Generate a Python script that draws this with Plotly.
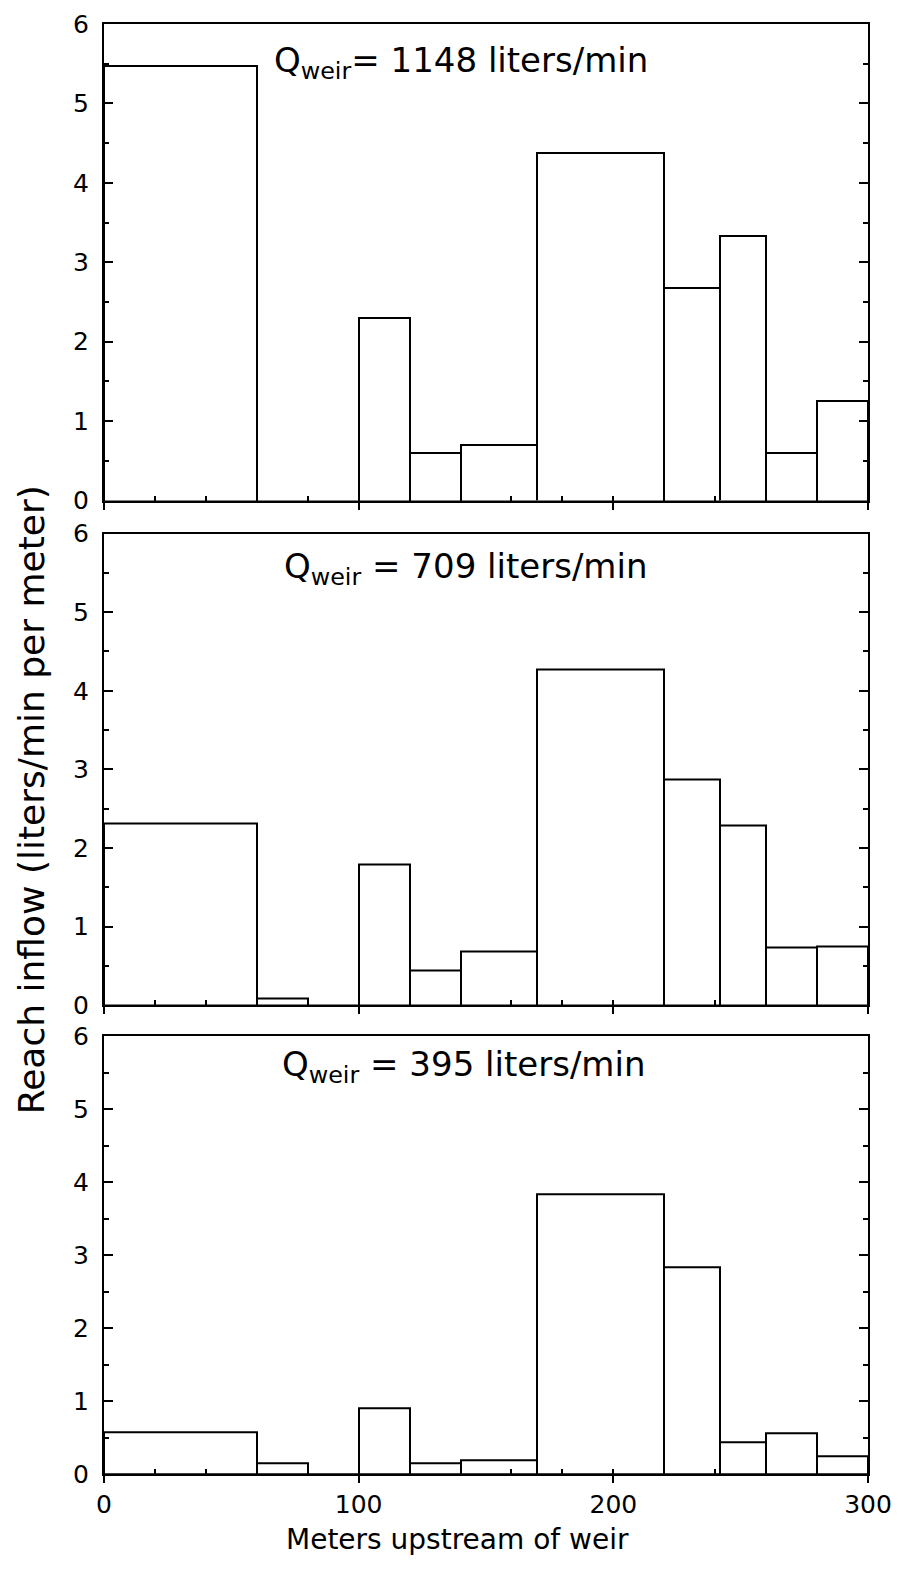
import plotly.graph_objects as go

# Bin edges (meters upstream of weir)
edges = [0, 60, 80, 100, 120, 140, 170, 220, 242, 260, 280, 300]

# Reach inflow (liters/min per meter) for each bin
q1148 = [5.47, 0.0, 0.0, 2.30, 0.60, 0.70, 4.37, 2.68, 3.33, 0.60, 1.25]
q709 = [2.31, 0.09, 0.0, 1.79, 0.44, 0.68, 4.27, 2.87, 2.29, 0.73, 0.75]
q395 = [0.57, 0.15, 0.0, 0.90, 0.15, 0.19, 3.83, 2.83, 0.44, 0.56, 0.24]

panel_labels = ["Q<sub>weir</sub>= 1148 liters/min",
                "Q<sub>weir</sub> = 709 liters/min",
                "Q<sub>weir</sub> = 395 liters/min"]

x_ticks = [0, 100, 200, 300]
y_ticks = [0, 1, 2, 3, 4, 5, 6]

centers = [(a + b) / 2 for a, b in zip(edges[:-1], edges[1:])]
widths = [b - a for a, b in zip(edges[:-1], edges[1:])]

FONT = "DejaVu Sans"
fig = go.Figure()

series = [q1148, q709, q395]
domains = [[0.6713, 1.0], [0.3232, 0.6486], [0.0, 0.3019]]
label_y = [5.52, 5.56, 5.59]
label_x = [66, 70, 69]

for i, vals in enumerate(series):
    n = i + 1
    xa = "x" if n == 1 else f"x{n}"
    ya = "y" if n == 1 else f"y{n}"
    fig.add_trace(go.Bar(
        x=centers, y=vals, width=widths,
        marker=dict(color="white", line=dict(color="black", width=2)),
        xaxis=xa, yaxis=ya, showlegend=False, hoverinfo="x+y"))
    xkey = "xaxis" if n == 1 else f"xaxis{n}"
    ykey = "yaxis" if n == 1 else f"yaxis{n}"
    fig.update_layout({
        xkey: dict(
            domain=[0, 1], anchor=ya, range=[0, 300], automargin=False,
            tickvals=x_ticks, ticktext=[str(v) for v in x_ticks],
            showticklabels=(n == 3), ticklabeloverflow="allow",
            ticks="outside", ticklen=7, tickwidth=1.5, tickcolor="black",
            minor=dict(dtick=20, tick0=0, ticks="inside", ticklen=5,
                       tickwidth=1.5, tickcolor="black"),
            showline=True, linecolor="black", linewidth=2, mirror=True,
            showgrid=False, zeroline=False,
            tickfont=dict(family=FONT, size=25, color="black"),
        ),
        ykey: dict(
            domain=domains[i], anchor=xa, range=[0, 6], automargin=False,
            tickvals=y_ticks, ticktext=[str(v) for v in y_ticks],
            ticklabeloverflow="allow",
            ticks="inside", ticklen=9, tickwidth=1.5, tickcolor="black",
            minor=dict(dtick=0.5, tick0=0, ticks="inside", ticklen=5,
                       tickwidth=1.5, tickcolor="black"),
            showline=True, linecolor="black", linewidth=2, mirror="ticks",
            showgrid=False, zeroline=False, ticklabelstandoff=8,
            tickfont=dict(family=FONT, size=25, color="black"),
        ),
    })
    fig.add_annotation(
        x=label_x[i], y=label_y[i], xref=xa, yref=ya,
        text=panel_labels[i], showarrow=False,
        xanchor="left", yanchor="middle",
        font=dict(family=FONT, size=34, color="black"))

# Axis titles as annotations (positioned like the original)
fig.add_annotation(
    x=-0.095, y=0.465, xref="paper", yref="paper",
    text="Reach inflow (liters/min per meter)", textangle=-90,
    showarrow=False, xanchor="center", yanchor="middle",
    font=dict(family=FONT, size=36, color="black"))
fig.add_annotation(
    x=0.463, y=-0.045, xref="paper", yref="paper",
    text="Meters upstream of weir", showarrow=False,
    xanchor="center", yanchor="middle",
    font=dict(family=FONT, size=28, color="black"))

# The page body adds an 8px offset, so the figure is sized to fit the window
fig.update_layout(
    width=893, height=1573,
    margin=dict(l=96, r=33, t=16, b=107, autoexpand=False),
    paper_bgcolor="white", plot_bgcolor="white",
    bargap=0,
)

fig.write_html("out.html")
